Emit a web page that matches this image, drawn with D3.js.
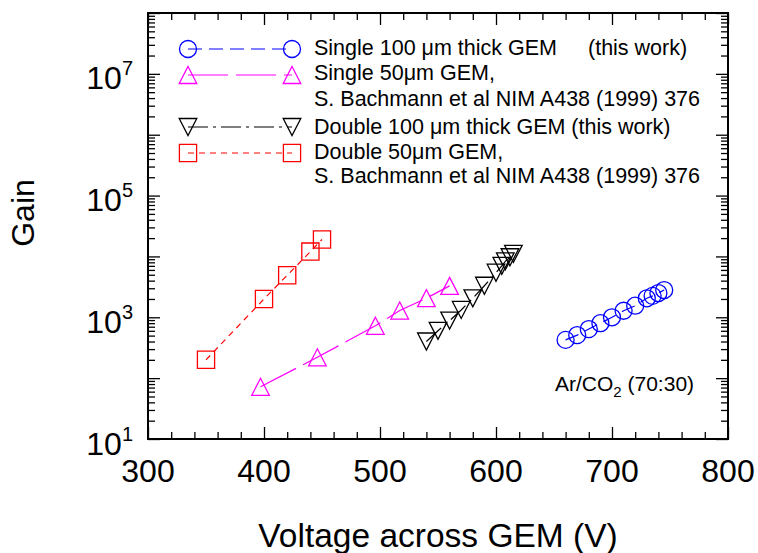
<!DOCTYPE html>
<html>
<head>
<meta charset="utf-8">
<script src="https://cdn.jsdelivr.net/npm/d3@7"></script>
<style>
  body { margin: 0; background: #fff; }
  svg text { font-family: "Liberation Sans", Arial, sans-serif; fill: #000; }
</style>
</head>
<body>
<div id="chart"></div>
<script>
// values
const voltTicks = [300, 400, 500, 600, 700, 800];
const gainLabelExps = [1, 3, 5, 7];

const singleThickV = [660, 670, 680, 690, 700, 710, 720, 730, 735, 740, 745];
const singleThickGain = [425, 510, 640, 800, 1000, 1280, 1550, 2050, 2250, 2500, 2800];

const single50V = [397, 446, 496, 517, 540, 560];
const single50Gain = [72, 220, 725, 1290, 2060, 3280];

const doubleThickV = [540, 550, 560, 570, 580, 590, 600, 605, 608, 612, 615];
const doubleThickGain = [400, 600, 880, 1320, 2050, 3300, 5400, 7000, 8300, 9700, 11000];

const double50V = [350, 400, 420, 440, 450];
const double50Gain = [200, 2000, 4900, 12000, 19000];

const legendLabels = [
    ['Single 100 \u03bcm thick GEM'],
    ['Single 50\u03bcm GEM,', 'S. Bachmann et al NIM A438 (1999) 376'],
    ['Double 100 \u03bcm thick GEM (this work)'],
    ['Double 50\u03bcm GEM,', 'S. Bachmann et al NIM A438 (1999) 376']
];

const chartWidth = 758;
const chartHeight = 553;
const plotLeft = 148, plotRight = 728, plotTop = 13, plotBottom = 439;

const svg = d3.select('#chart')
            .append('svg')
            .attr('width', chartWidth)
            .attr('height', chartHeight);

const xScale = d3.scaleLinear()
            .domain([300, 800])
            .range([plotLeft, plotRight]);

const yScale = d3.scaleLog()
            .domain([10, 1e8])
            .range([plotBottom, plotTop]);

// minor / major ticks, all pointing inward on the four sides
const minorV = d3.range(300, 801, 20).filter(v => v % 100 !== 0);
const minorG = [];
for (let e = 1; e < 8; e++) {
    for (let m = 2; m <= 9; m++) minorG.push(m * Math.pow(10, e));
}
const decadeG = d3.range(1, 9).map(e => Math.pow(10, e));

const addAxis = (axis, tx, ty) => {
    const g = svg.append('g')
        .attr('transform', 'translate(' + tx + ',' + ty + ')')
        .call(axis);
    g.select('.domain').remove();
    g.selectAll('line').attr('stroke', '#000').attr('stroke-width', 1.3);
    return g;
};

addAxis(d3.axisBottom(xScale).tickValues(minorV).tickSize(-7).tickFormat(''), 0, plotBottom);
addAxis(d3.axisBottom(xScale).tickValues(voltTicks).tickSize(-12).tickFormat(''), 0, plotBottom);
addAxis(d3.axisTop(xScale).tickValues(minorV).tickSize(-7).tickFormat(''), 0, plotTop);
addAxis(d3.axisTop(xScale).tickValues(voltTicks).tickSize(-12).tickFormat(''), 0, plotTop);
addAxis(d3.axisLeft(yScale).tickValues(minorG).tickSize(-7).tickFormat(''), plotLeft, 0);
addAxis(d3.axisLeft(yScale).tickValues(decadeG).tickSize(-12).tickFormat(''), plotLeft, 0);
addAxis(d3.axisRight(yScale).tickValues(minorG).tickSize(-7).tickFormat(''), plotRight, 0);
addAxis(d3.axisRight(yScale).tickValues(decadeG).tickSize(-12).tickFormat(''), plotRight, 0);

svg.append('rect')
    .attr('x', plotLeft).attr('y', plotTop)
    .attr('width', plotRight - plotLeft).attr('height', plotBottom - plotTop)
    .attr('fill', 'none').attr('stroke', '#000').attr('stroke-width', 2);

// tick labels
svg.selectAll('.xlab')
    .data(voltTicks)
    .enter()
    .append('text')
    .attr('class', 'xlab')
    .attr('x', d => xScale(d))
    .attr('y', 482)
    .attr('text-anchor', 'middle')
    .style('font-size', '32px')
    .text(d => d);

const ylab = svg.selectAll('.ylab')
    .data(gainLabelExps)
    .enter()
    .append('text')
    .attr('class', 'ylab')
    .attr('x', 133)
    .attr('y', d => yScale(Math.pow(10, d)) + 15.5)
    .attr('text-anchor', 'end')
    .style('font-size', '32px');
ylab.append('tspan').text('10');
ylab.append('tspan')
    .attr('dy', -14)
    .style('font-size', '20px')
    .text(d => d);

// axis titles
svg.append('text')
    .attr('transform', 'translate(34,213) rotate(-90)')
    .attr('text-anchor', 'middle')
    .style('font-size', '32px')
    .text('Gain');

svg.append('text')
    .attr('x', (plotLeft + plotRight) / 2)
    .attr('y', 547)
    .attr('text-anchor', 'middle')
    .style('font-size', '33.5px')
    .text('Voltage across GEM (V)');

// marker shapes
const symbolPath = {
    circle: 'M8.5,0A8.5,8.5 0 1,1 -8.5,0A8.5,8.5 0 1,1 8.5,0Z',
    up: 'M0,-8.5L8.8,8.5L-8.8,8.5Z',
    down: 'M-8.8,-8.5L8.8,-8.5L0,8.5Z',
    square: 'M-8.6,-8.6H8.6V8.6H-8.6Z'
};

const series = [
    {v: singleThickV, g: singleThickGain, color: '#0000ff', dash: '14,7', shape: 'circle'},
    {v: single50V, g: single50Gain, color: '#ff00ff', dash: '40,8', shape: 'up'},
    {v: doubleThickV, g: doubleThickGain, color: '#000000', dash: '20,5,3,5', shape: 'down'},
    {v: double50V, g: double50Gain, color: '#ff0000', dash: '6,5', shape: 'square'}
];

const line = d3.line()
    .x(d => xScale(d[0]))
    .y(d => yScale(d[1]));

series.forEach(s => {
    const pts = s.v.map((v, i) => [v, s.g[i]]);
    svg.append('path')
        .attr('d', line(pts))
        .attr('fill', 'none')
        .attr('stroke', s.color)
        .attr('stroke-width', 1.2)
        .attr('stroke-dasharray', s.dash);
    svg.append('g').selectAll('path')
        .data(pts)
        .enter()
        .append('path')
        .attr('d', symbolPath[s.shape])
        .attr('transform', d => 'translate(' + xScale(d[0]) + ',' + yScale(d[1]) + ')')
        .attr('fill', 'none')
        .attr('stroke', s.color)
        .attr('stroke-width', 1.3);
});

// legend
const legendSymY = [49, 75, 127, 153];
const legendBase = [[55], [80, 106], [134], [159, 183]];
const legX1 = 188, legX2 = 292, legTextX = 314;

series.forEach((s, i) => {
    const y = legendSymY[i];
    svg.append('line')
        .attr('x1', legX1).attr('x2', legX2)
        .attr('y1', y).attr('y2', y)
        .attr('stroke', s.color)
        .attr('stroke-width', 1.2)
        .attr('stroke-dasharray', s.dash);
    [legX1, legX2].forEach(x => {
        svg.append('path')
            .attr('d', symbolPath[s.shape])
            .attr('transform', 'translate(' + x + ',' + y + ')')
            .attr('fill', 'none')
            .attr('stroke', s.color)
            .attr('stroke-width', 1.3);
    });
    legendLabels[i].forEach((t, j) => {
        svg.append('text')
            .attr('x', legTextX)
            .attr('y', legendBase[i][j])
            .style('font-size', '21.5px')
            .text(t);
    });
});

svg.append('text')
    .attr('x', 588)
    .attr('y', 55)
    .style('font-size', '21.5px')
    .text('(this work)');

// gas annotation
const gas = svg.append('text')
    .attr('x', 555)
    .attr('y', 391)
    .style('font-size', '21px');
gas.append('tspan').text('Ar/CO');
gas.append('tspan').attr('dy', 6).style('font-size', '15px').text('2');
gas.append('tspan').attr('dy', -6).text(' (70:30)');
</script>
</body>
</html>
